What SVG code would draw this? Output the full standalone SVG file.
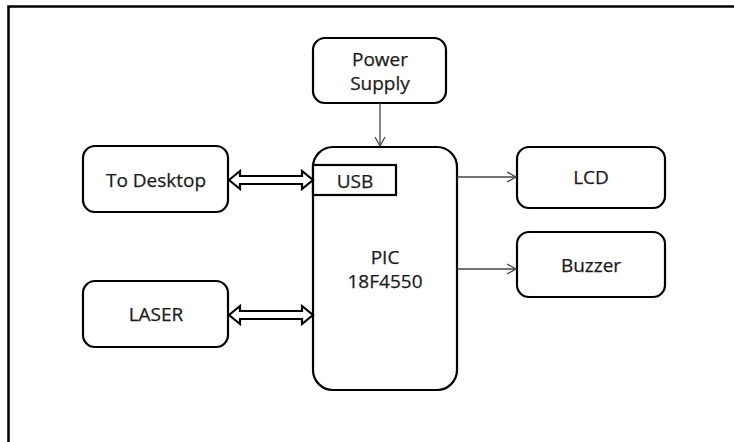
<svg xmlns="http://www.w3.org/2000/svg" width="734" height="442" viewBox="0 0 734 442">
<defs>
<style>
.box{fill:#fff;stroke:#000;stroke-width:2.2}
.t{font-family:"Open Sans","Noto Sans",sans-serif;font-size:19px;fill:#1a1a1a;text-anchor:middle;stroke:#1a1a1a;stroke-width:0.25}
.thin{stroke:#444;stroke-width:1.3;fill:none}
.dbl{fill:#fff;stroke:#000;stroke-width:2.2;stroke-linejoin:miter}
</style>
<marker id="ah" markerWidth="12" markerHeight="12" refX="10" refY="6" orient="auto" markerUnits="userSpaceOnUse">
<path d="M1,1 L10,6 L1,11" fill="none" stroke="#444" stroke-width="1.3"/>
</marker>
</defs>
<rect width="734" height="442" fill="#fff"/>
<path d="M8.5,442 V6.5 H734" fill="none" stroke="#000" stroke-width="2.5"/>
<g id="power">
<rect class="box" x="313" y="38" width="133" height="65" rx="12"/>
<text class="t" x="380" y="66">Power</text>
<text class="t" x="380" y="90">Supply</text>
</g>
<g id="pic">
<rect class="box" x="313" y="147" width="144" height="243" rx="20"/>
<text class="t" x="385" y="264">PIC</text>
<text class="t" x="385" y="288">18F4550</text>
</g>
<g id="usb">
<rect class="box" x="313" y="165" width="83" height="30"/>
<text class="t" x="355" y="188">USB</text>
</g>
<g id="desktop">
<rect class="box" x="83" y="146" width="145" height="66" rx="12"/>
<text class="t" x="156" y="187">To Desktop</text>
</g>
<g id="laser">
<rect class="box" x="83" y="281" width="145" height="66" rx="12"/>
<text class="t" x="156" y="321">LASER</text>
</g>
<g id="lcd">
<rect class="box" x="517" y="147" width="148" height="61" rx="12"/>
<text class="t" x="591" y="184">LCD</text>
</g>
<g id="buzzer">
<rect class="box" x="517" y="232" width="148" height="65" rx="12"/>
<text class="t" x="591" y="272">Buzzer</text>
</g>
<g id="connectors">
<line class="thin" x1="380" y1="103" x2="380" y2="146" marker-end="url(#ah)"/>
<line class="thin" x1="457" y1="177" x2="516" y2="177" marker-end="url(#ah)"/>
<line class="thin" x1="457" y1="269" x2="516" y2="269" marker-end="url(#ah)"/>
<path class="dbl" d="M229,180 L240,171 L240,176 L302,176 L302,171 L313,180 L302,189 L302,184 L240,184 L240,189 Z"/>
<path class="dbl" d="M229,315 L240,306 L240,311 L302,311 L302,306 L313,315 L302,324 L302,319 L240,319 L240,324 Z"/>
</g>
</svg>
